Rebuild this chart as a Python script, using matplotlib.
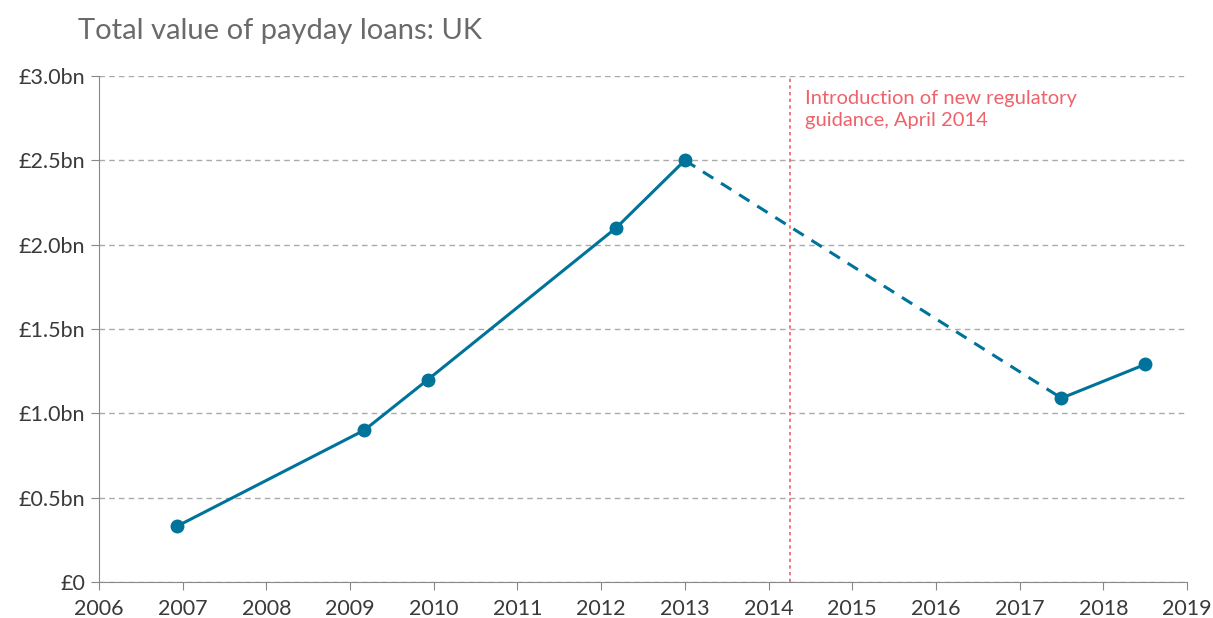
import numpy as np
import matplotlib.pyplot as plt

# data
years = [2006.93, 2009.17, 2009.93, 2012.18, 2013.0, 2017.5, 2018.5]
value_bn = [0.33, 0.90, 1.20, 2.10, 2.50, 1.09, 1.29]
solid_a = slice(0, 5)
dashed = slice(4, 6)
solid_b = slice(5, 7)

guidance_year = 2014.26
guidance_text = 'Introduction of new regulatory\nguidance, April 2014'

y_ticks = [0, 0.5, 1.0, 1.5, 2.0, 2.5, 3.0]
y_labels = ['£0', '£0.5bn', '£1.0bn', '£1.5bn', '£2.0bn', '£2.5bn', '£3.0bn']
x_ticks = list(range(2006, 2020))

blue = '#00739a'
red = '#f0626a'
grey = '#888888'

plt.rcParams['font.family'] = ['Lato', 'DejaVu Sans']

fig = plt.figure(figsize=(12.13, 6.18), dpi=100)
ax = fig.add_axes((0.0816, 0.0583, 0.8970, 0.8187))

ax.plot(years[solid_a], value_bn[solid_a], color=blue, lw=2.2)
ax.plot(years[dashed], value_bn[dashed], color=blue, lw=2.2, ls=(0, (4, 3)))
ax.plot(years[solid_b], value_bn[solid_b], color=blue, lw=2.2)
ax.plot(years, value_bn, 'o', color=blue, ms=9)

ax.axvline(guidance_year, color=red, lw=1.2, ls=(0, (2, 2)))
ax.text(guidance_year + 0.17, 2.92, guidance_text, color=red, fontsize=14.5,
        va='top', ha='left', linespacing=1.4)

ax.set_xlim(2006, 2019)
ax.set_ylim(0, 3.0)
ax.set_yticks(y_ticks)
ax.set_yticklabels(y_labels)
ax.set_xticks(x_ticks)
ax.grid(axis='y', color='#aaaaaa', ls=(0, (4, 3)), lw=1)
ax.set_axisbelow(True)
for s in ['top', 'right']:
    ax.spines[s].set_visible(False)
for s in ['left', 'bottom']:
    ax.spines[s].set_color(grey)
ax.tick_params(colors=grey, labelcolor='#3a3a3a', labelsize=15.5, length=6)
ax.tick_params(axis='y', pad=4)
ax.tick_params(axis='x', pad=6)

fig.text(0.064, 0.95, 'Total value of payday loans: UK', fontsize=21,
         color='#6a6a6a', ha='left', va='center')

fig.savefig('out.png', dpi=100)
